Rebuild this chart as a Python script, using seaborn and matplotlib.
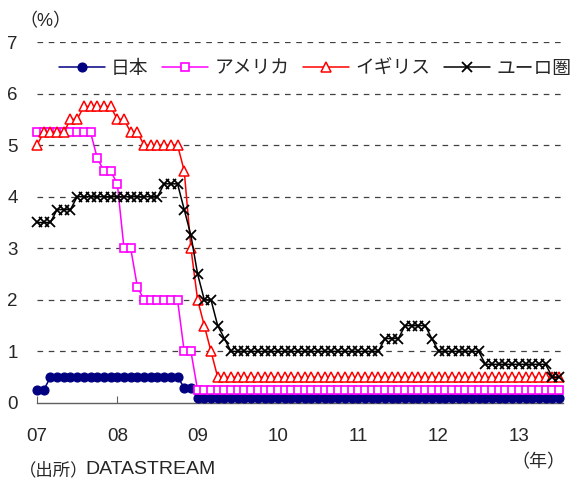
import matplotlib
matplotlib.use("Agg")
import matplotlib.pyplot as plt
import seaborn as sns
import pandas as pd

# Policy rates, monthly (start of month), Jan 2007 - Jul 2013, in %
japan = [
    0.25, 0.25, 0.5, 0.5, 0.5, 0.5, 0.5, 0.5, 0.5, 0.5, 0.5, 0.5,
    0.5, 0.5, 0.5, 0.5, 0.5, 0.5, 0.5, 0.5, 0.5, 0.5, 0.3, 0.3,
    0.1, 0.1, 0.1, 0.1, 0.1, 0.1, 0.1, 0.1, 0.1, 0.1, 0.1, 0.1,
    0.1, 0.1, 0.1, 0.1, 0.1, 0.1, 0.1, 0.1, 0.1, 0.1, 0.1, 0.1,
    0.1, 0.1, 0.1, 0.1, 0.1, 0.1, 0.1, 0.1, 0.1, 0.1, 0.1, 0.1,
    0.1, 0.1, 0.1, 0.1, 0.1, 0.1, 0.1, 0.1, 0.1, 0.1, 0.1, 0.1,
    0.1, 0.1, 0.1, 0.1, 0.1, 0.1, 0.1,
]
usa = [
    5.25, 5.25, 5.25, 5.25, 5.25, 5.25, 5.25, 5.25, 5.25, 4.75, 4.5, 4.5,
    4.25, 3.0, 3.0, 2.25, 2.0, 2.0, 2.0, 2.0, 2.0, 2.0, 1.0, 1.0,
    0.25, 0.25, 0.25, 0.25, 0.25, 0.25, 0.25, 0.25, 0.25, 0.25, 0.25, 0.25,
    0.25, 0.25, 0.25, 0.25, 0.25, 0.25, 0.25, 0.25, 0.25, 0.25, 0.25, 0.25,
    0.25, 0.25, 0.25, 0.25, 0.25, 0.25, 0.25, 0.25, 0.25, 0.25, 0.25, 0.25,
    0.25, 0.25, 0.25, 0.25, 0.25, 0.25, 0.25, 0.25, 0.25, 0.25, 0.25, 0.25,
    0.25, 0.25, 0.25, 0.25, 0.25, 0.25, 0.25,
]
uk = [
    5.0, 5.25, 5.25, 5.25, 5.25, 5.5, 5.5, 5.75, 5.75, 5.75, 5.75, 5.75,
    5.5, 5.5, 5.25, 5.25, 5.0, 5.0, 5.0, 5.0, 5.0, 5.0, 4.5, 3.0,
    2.0, 1.5, 1.0, 0.5, 0.5, 0.5, 0.5, 0.5, 0.5, 0.5, 0.5, 0.5,
    0.5, 0.5, 0.5, 0.5, 0.5, 0.5, 0.5, 0.5, 0.5, 0.5, 0.5, 0.5,
    0.5, 0.5, 0.5, 0.5, 0.5, 0.5, 0.5, 0.5, 0.5, 0.5, 0.5, 0.5,
    0.5, 0.5, 0.5, 0.5, 0.5, 0.5, 0.5, 0.5, 0.5, 0.5, 0.5, 0.5,
    0.5, 0.5, 0.5, 0.5, 0.5, 0.5, 0.5,
]
euro = [
    3.5, 3.5, 3.5, 3.75, 3.75, 3.75, 4.0, 4.0, 4.0, 4.0, 4.0, 4.0,
    4.0, 4.0, 4.0, 4.0, 4.0, 4.0, 4.0, 4.25, 4.25, 4.25, 3.75, 3.25,
    2.5, 2.0, 2.0, 1.5, 1.25, 1.0, 1.0, 1.0, 1.0, 1.0, 1.0, 1.0,
    1.0, 1.0, 1.0, 1.0, 1.0, 1.0, 1.0, 1.0, 1.0, 1.0, 1.0, 1.0,
    1.0, 1.0, 1.0, 1.0, 1.25, 1.25, 1.25, 1.5, 1.5, 1.5, 1.5, 1.25,
    1.0, 1.0, 1.0, 1.0, 1.0, 1.0, 1.0, 0.75, 0.75, 0.75, 0.75, 0.75,
    0.75, 0.75, 0.75, 0.75, 0.75, 0.5, 0.5,
]
months = list(range(len(japan)))
year_labels = ["07", "08", "09", "10", "11", "12", "13"]
series_names = ["日本", "アメリカ", "イギリス", "ユーロ圏"]

df = pd.DataFrame({"month": months, "日本": japan, "アメリカ": usa,
                   "イギリス": uk, "ユーロ圏": euro})

sns.set_theme(style="white")
plt.rcParams["font.family"] = ["Liberation Sans", "Noto Sans CJK JP"]

fig = plt.figure(figsize=(5.71, 4.79), dpi=100)
ax = fig.add_axes([0.0648, 0.1587, 0.9212, 0.7536])

styles = {
    "日本": dict(color="#000080", marker="o", markersize=6.5,
                 markerfacecolor="#000080", markeredgecolor="#000080", markeredgewidth=0.8),
    "アメリカ": dict(color="#FF00FF", marker="s", markersize=5.8,
                  markerfacecolor="white", markeredgecolor="#FF00FF", markeredgewidth=1.2),
    "イギリス": dict(color="#FF0000", marker="^", markersize=7.2,
                  markerfacecolor="white", markeredgecolor="#FF0000", markeredgewidth=1.1),
    "ユーロ圏": dict(color="black", marker="x", markersize=7.5,
                  markeredgecolor="black", markeredgewidth=1.3),
}

for i, name in enumerate(series_names):
    sns.lineplot(data=df, x="month", y=name, ax=ax, linewidth=1.1,
                 label=name, clip_on=False, zorder=3 + i, **styles[name])

ax.set_xlim(0, 78.6)
ax.set_ylim(0, 7)
ax.set_yticks(range(0, 8))
ax.set_xticks(range(0, 73, 12))
ax.set_xticklabels(year_labels)
ax.set_xlabel("")
ax.set_ylabel("")

for y in range(1, 8):
    ax.axhline(y, color="#404040", linewidth=0.9, linestyle=(0, (4.5, 4.5)), zorder=1)

for side in ["left", "top", "right"]:
    ax.spines[side].set_visible(False)
ax.spines["bottom"].set_color("#606060")
ax.spines["bottom"].set_linewidth(1.0)

ax.tick_params(axis="x", direction="in", length=5, width=0.8, color="#606060",
               pad=18, labelsize=13.5, bottom=True)
ax.tick_params(axis="y", length=0, pad=14, labelsize=13.5)

leg = ax.legend(loc="center", bbox_to_anchor=(0.5517, 0.856),
                bbox_transform=fig.transFigure, ncol=4, frameon=False,
                fontsize=13.5, handlelength=2.45, handletextpad=0.32,
                columnspacing=0.75, borderaxespad=0, borderpad=0)

fig.text(45 / 571, 1 - 22 / 479, "（%）", fontsize=13, ha="center", va="center")
fig.text(538 / 571, 1 - 463 / 479, "（年）", fontsize=13, ha="center", va="center")
fig.text(19 / 571, 1 - 470 / 479, "（出所）", fontsize=12.5, ha="left", va="center")
fig.text(85 / 571, 1 - 470 / 479, "DATASTREAM", fontsize=14, ha="left", va="center")

fig.savefig("out.png", dpi=100)
